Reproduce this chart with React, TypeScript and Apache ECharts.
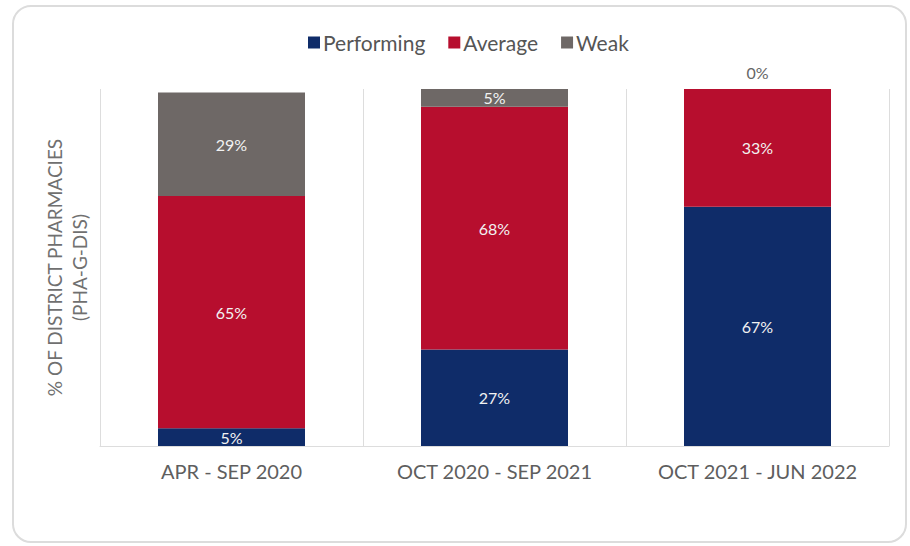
import React, { useEffect, useRef } from "react";
import * as echarts from "echarts";

const categories = ["APR - SEP 2020", "OCT 2020 - SEP 2021", "OCT 2021 - JUN 2022"];
const performing = [5, 27, 67];
const average = [65, 68, 33];
const weak = [29, 5, 0];
const seriesNames = ["Performing", "Average", "Weak"];
const colors = ["#0F2C69", "#B70E2E", "#6E6866"];

const FONT = "Lato, 'Open Sans', sans-serif";

export default function App() {
  const ref = useRef<HTMLDivElement>(null);
  useEffect(() => {
    if (!ref.current) return;
    const chart = echarts.init(ref.current, null, { renderer: "svg" });
    const mk = (name: string, data: number[], color: string) => ({
      name,
      type: "bar",
      stack: "total",
      barWidth: 147,
      itemStyle: { color },
      label: {
        show: true,
        position: "inside",
        color: "#F2F2F2",
        fontSize: 16,
        fontFamily: FONT,
        formatter: "{c}%",
      },
      data: data.map((v) =>
        v === 0
          ? { value: v, label: { position: "top", distance: 9, color: "#666", fontSize: 16 } }
          : v
      ),
    });
    chart.setOption({
      animation: false,
      textStyle: { fontFamily: FONT },
      graphic: [
        {
          type: "rect",
          shape: { x: 13, y: 6, width: 893, height: 536, r: 18 },
          style: { fill: "none", stroke: "#DCDCDC", lineWidth: 2 },
          silent: true,
          z: -10,
        },
      ],
      legend: {
        data: seriesNames,
        top: 27,
        left: 303,
        icon: "rect",
        itemWidth: 12,
        itemHeight: 12,
        itemGap: 23,
        textStyle: { color: "#555", fontSize: 21, fontFamily: FONT, padding: [0, 0, 0, -2] },
      },
      grid: { left: 100, right: 21, top: 89, bottom: 100 },
      xAxis: {
        type: "category",
        data: categories,
        axisLine: { show: true, lineStyle: { color: "#DDD", width: 1 } },
        axisTick: { show: false },
        splitLine: { show: true, lineStyle: { color: "#DDD", width: 1 } },
        axisLabel: { color: "#5E5E5E", fontSize: 20, margin: 15, fontFamily: FONT },
      },
      yAxis: {
        type: "value",
        min: 0,
        max: 100,
        interval: 20,
        axisLabel: { show: false },
        axisLine: { show: false },
        axisTick: { show: false },
        splitLine: { show: false },
        name: "% OF DISTRICT PHARMACIES\n(PHA-G-DIS)",
        nameLocation: "middle",
        nameRotate: 90,
        nameGap: 8,
        nameTextStyle: { color: "#707070", fontSize: 19, lineHeight: 25, fontFamily: FONT },
      },
      series: [
        mk(seriesNames[0], performing, colors[0]),
        mk(seriesNames[1], average, colors[1]),
        mk(seriesNames[2], weak, colors[2]),
      ],
    });
    return () => chart.dispose();
  }, []);
  return (
    <div
      ref={ref}
      style={{ position: "fixed", left: 0, top: 0, width: 910, height: 546, background: "#fff" }}
    />
  );
}
